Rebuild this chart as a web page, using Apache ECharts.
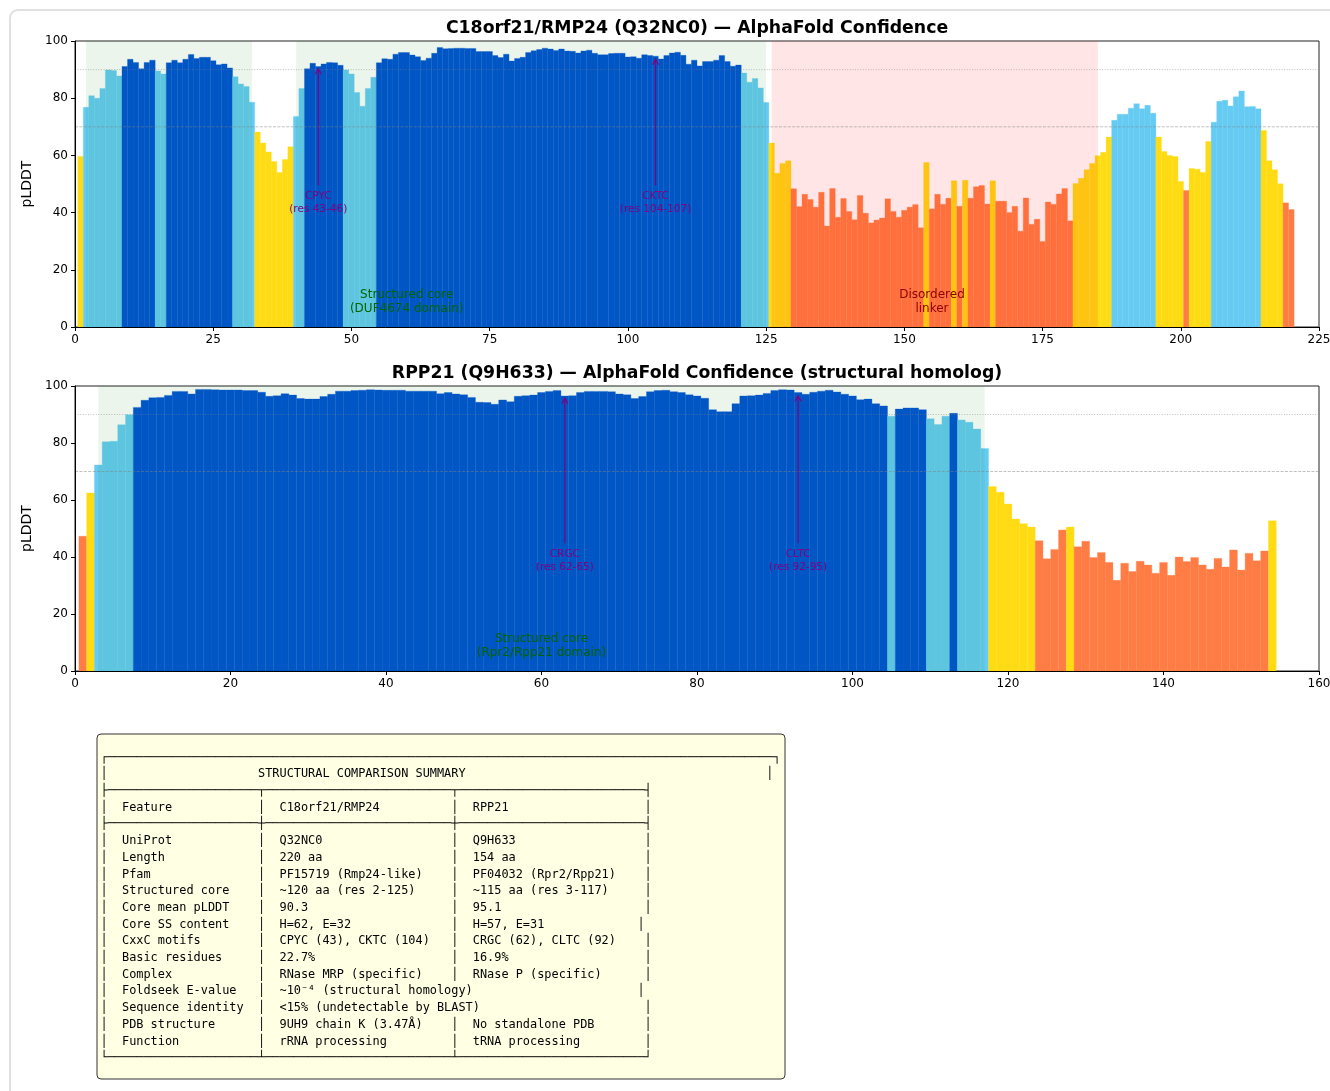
<!DOCTYPE html>
<html>
<head>
<meta charset="utf-8">
<script src="https://cdn.jsdelivr.net/npm/echarts@6/dist/echarts.min.js"></script>
<style>
html,body{margin:0;padding:0;background:#fff;}
#chart{width:1330px;height:1091px;}
</style>
</head>
<body>
<div id="chart"></div>
<script>
// ---------------- DATA ----------------
const rmp24Title = 'C18orf21/RMP24 (Q32NC0) \u2014 AlphaFold Confidence';
const rpp21Title = 'RPP21 (Q9H633) \u2014 AlphaFold Confidence (structural homolog)';

// per-residue pLDDT, residue n = index + 1
const rmp24Plddt = [
  59.6, 76.8, 80.9, 80.0, 83.4, 89.9, 89.7, 87.8, 91.1, 93.6,
  92.5, 90.3, 92.5, 93.3, 89.5, 88.5, 92.4, 93.3, 92.4, 93.6,
  95.3, 93.9, 94.3, 94.3, 93.1, 91.7, 92.0, 90.6, 87.5, 85.0,
  84.1, 78.6, 68.2, 64.3, 61.2, 57.9, 54.0, 58.6, 63.0, 73.6,
  83.4, 90.3, 92.2, 91.1, 92.0, 92.5, 92.4, 91.5, 89.9, 88.5,
  82.0, 77.2, 83.4, 87.3, 92.4, 93.8, 93.6, 95.4, 96.0, 96.0,
  95.1, 94.5, 93.2, 94.0, 95.7, 97.7, 97.3, 97.4, 97.5, 97.5,
  97.4, 97.4, 96.3, 96.3, 96.3, 94.9, 94.2, 95.4, 93.0, 93.9,
  94.3, 96.0, 96.6, 97.0, 97.5, 97.2, 96.7, 97.2, 96.5, 96.4,
  95.8, 96.5, 96.8, 95.7, 95.2, 95.2, 95.6, 95.7, 95.7, 94.4,
  94.5, 94.0, 95.2, 94.9, 94.7, 93.7, 94.9, 95.8, 96.1, 95.0,
  91.9, 93.3, 91.3, 92.8, 92.8, 93.3, 94.9, 92.8, 91.2, 91.6,
  88.8, 85.6, 86.9, 83.6, 78.5, 64.3, 53.8, 57.2, 58.1, 48.3,
  42.1, 46.4, 44.6, 41.9, 47.1, 35.3, 48.4, 38.4, 44.9, 40.4,
  37.5, 46.0, 39.8, 36.4, 37.4, 38.1, 44.8, 40.4, 38.4, 40.8,
  41.9, 42.8, 34.7, 57.5, 41.3, 46.4, 42.9, 45.0, 51.1, 42.2,
  51.3, 45.0, 49.0, 49.5, 43.0, 51.1, 44.0, 44.0, 40.0, 42.2,
  33.5, 45.1, 35.9, 37.7, 29.9, 43.7, 42.9, 46.5, 48.4, 37.1,
  50.2, 52.0, 55.0, 57.2, 59.9, 61.1, 66.4, 72.3, 74.4, 74.4,
  76.5, 78.1, 76.3, 77.5, 74.7, 66.4, 61.4, 60.0, 59.6, 50.9,
  47.7, 55.4, 55.2, 54.0, 64.9, 71.6, 78.9, 79.3, 77.3, 80.5,
  82.5, 77.0, 77.1, 76.3, 68.7, 58.1, 55.0, 50.1, 43.4, 41.1
];

const rpp21Plddt = [
  47.3, 62.5, 72.3, 80.4, 80.6, 86.4, 89.9, 92.5, 95.0, 95.9,
  96.0, 96.7, 98.1, 98.1, 97.2, 98.8, 98.8, 98.7, 98.6, 98.6,
  98.6, 98.4, 98.4, 97.8, 96.4, 96.6, 97.3, 96.8, 95.6, 95.4,
  95.4, 96.3, 97.1, 98.2, 98.2, 98.4, 98.5, 98.7, 98.6, 98.5,
  98.5, 98.5, 98.2, 98.2, 98.2, 98.2, 97.3, 97.7, 97.2, 96.9,
  96.0, 94.3, 94.2, 93.6, 95.1, 94.5, 96.4, 96.6, 96.8, 97.7,
  98.1, 98.4, 96.5, 96.6, 97.7, 98.1, 98.1, 98.1, 98.0, 97.2,
  96.9, 95.6, 96.3, 98.0, 98.4, 98.5, 98.0, 97.7, 96.9, 96.5,
  95.7, 91.7, 91.0, 91.0, 93.8, 96.5, 96.6, 96.8, 97.4, 98.4,
  98.7, 98.6, 97.7, 97.1, 97.8, 98.2, 98.5, 97.9, 97.1, 96.5,
  95.2, 95.4, 93.8, 93.0, 89.4, 91.9, 92.3, 92.3, 91.7, 88.5,
  86.5, 89.4, 90.4, 88.1, 87.3, 84.9, 78.1, 64.7, 62.7, 58.6,
  53.3, 51.7, 50.5, 45.7, 39.4, 42.6, 49.5, 50.5, 43.6, 45.5,
  39.8, 41.6, 38.1, 31.8, 37.8, 34.9, 38.5, 37.2, 34.3, 38.1,
  33.6, 40.0, 38.4, 39.8, 37.2, 35.7, 39.5, 36.5, 42.5, 35.4,
  41.3, 38.7, 42.1, 52.7
];

// shaded regions [start, end]
const rmp24CoreSpans = [[2, 32], [40, 125]];
const rmp24DisorderSpans = [[126, 185]];
const rpp21CoreSpans = [[3, 117]];

// confidence reference lines
const dottedLines = [90];
const dashedLines = [70];

// motif annotations: [residue, arrowTip, arrowTail, name, range]
const rmp24Motifs = [[44, 90.3, 49.5, 'CPYC', '(res 43-46)'], [105, 93.6, 49.5, 'CKTC', '(res 104-107)']];
const rpp21Motifs = [[63, 95.7, 44.8, 'CRGC', '(res 62-65)'], [93, 96.6, 44.8, 'CLTC', '(res 92-95)']];

// region labels: [x, y, text, kind]
const rmp24RegionLabels = [[60, 8.75, 'Structured core\n(DUF4674 domain)', 'core'], [155, 8.75, 'Disordered\nlinker', 'disorder']];
const rpp21RegionLabels = [[60, 8.75, 'Structured core\n(Rpr2/Rpp21 domain)', 'core']];

// axes
const rmp24XMax = 225, rmp24XStep = 25;
const rpp21XMax = 160, rpp21XStep = 20;
const yMax = 100, yStep = 20;

// summary table
const tableTitle = 'STRUCTURAL COMPARISON SUMMARY';
const tableHeader = ['Feature', 'C18orf21/RMP24', 'RPP21'];
const tableFeatures = ['UniProt', 'Length', 'Pfam', 'Structured core', 'Core mean pLDDT', 'Core SS content',
  'CxxC motifs', 'Basic residues', 'Complex', 'Foldseek E-value', 'Sequence identity', 'PDB structure', 'Function'];
const tableRmp24 = ['Q32NC0', '220 aa', 'PF15719 (Rmp24-like)', '~120 aa (res 2-125)', '90.3', 'H=62, E=32',
  'CPYC (43), CKTC (104)', '22.7%', 'RNase MRP (specific)', '~10\u207b\u2074 (structural homology)',
  '<15% (undetectable by BLAST)', '9UH9 chain K (3.47\u00c5)', 'rRNA processing'];
const tableRpp21 = ['Q9H633', '154 aa', 'PF04032 (Rpr2/Rpp21)', '~115 aa (res 3-117)', '95.1', 'H=57, E=31',
  'CRGC (62), CLTC (92)', '16.9%', 'RNase P (specific)', null, null, 'No standalone PDB', 'tRNA processing'];
const tableRowEndCol = [76, 76, 76, 76, 76, 75, 76, 76, 76, 75, 76, 76, 76];

// ---------------- STYLE ----------------
const FONT = 'DejaVu Sans';
const C_VHIGH = '#0053D6', C_HIGH = '#65CBF3', C_LOW = '#FFDB13', C_VLOW = '#FF7D45';
function plddtColor(v) { return v > 90 ? C_VHIGH : v > 70 ? C_HIGH : v > 50 ? C_LOW : C_VLOW; }
const CORE_FILL = 'rgba(0,128,0,0.08)';
const DISORDER_FILL = 'rgba(255,0,0,0.10)';
const LABEL_COLORS = { core: '#006400', disorder: '#8B0000' };
const MOTIF_COLOR = '#800080';

function barItem(params, api) {
  const x = api.value(0), y = api.value(1);
  const a = api.coord([x - 0.5, y]);
  const b = api.coord([x + 0.5, 0]);
  const col = plddtColor(y);
  return { type: 'rect', shape: { x: a[0], y: a[1], width: b[0] - a[0], height: b[1] - a[1] },
    style: { fill: col, stroke: col, lineWidth: 0.3 } };
}
function spanItem(fill) {
  return function (params, api) {
    const a = api.coord([api.value(0), yMax]);
    const b = api.coord([api.value(1), 0]);
    return { type: 'rect', shape: { x: a[0], y: a[1], width: b[0] - a[0], height: b[1] - a[1] },
      style: { fill: fill } };
  };
}
function hlineItem(xmax, dash) {
  return function (params, api) {
    const v = api.value(1);
    const a = api.coord([0, v]), b = api.coord([xmax, v]);
    return { type: 'line', shape: { x1: a[0], y1: a[1], x2: b[0], y2: b[1] },
      style: { stroke: 'rgba(128,128,128,0.55)', lineWidth: 0.9, lineDash: dash } };
  };
}
function motifItem(list) {
  return function (params, api) {
    const m = list[params.dataIndex];
    const tip = api.coord([m[0], m[1]]);
    const tail = api.coord([m[0], m[2]]);
    return { type: 'group', children: [
      { type: 'line', shape: { x1: tail[0], y1: tail[1], x2: tip[0], y2: tip[1] },
        style: { stroke: MOTIF_COLOR, lineWidth: 1.2 } },
      { type: 'polyline', shape: { points: [[tip[0] - 3, tip[1] + 5.5], [tip[0], tip[1]], [tip[0] + 3, tip[1] + 5.5]] },
        style: { stroke: MOTIF_COLOR, fill: null, lineWidth: 1.2 } },
      { type: 'text', x: tail[0], y: tail[1] + 4.5,
        style: { text: m[3] + '\n' + m[4], fill: MOTIF_COLOR, fontFamily: FONT, fontSize: 10.5,
          lineHeight: 13, align: 'center', verticalAlign: 'top' } }
    ] };
  };
}
function labelItem(list) {
  return function (params, api) {
    const l = list[params.dataIndex];
    const p = api.coord([l[0], l[1]]);
    return { type: 'text', x: p[0], y: p[1],
      style: { text: l[2], fill: LABEL_COLORS[l[3]], fontFamily: FONT, fontSize: 12,
        lineHeight: 14, align: 'center', verticalAlign: 'middle' } };
  };
}

function xAxisCfg(gi, max, step) {
  return { type: 'value', gridIndex: gi, min: 0, max: max, interval: step, z: 10,
    axisLine: { show: true, onZero: false, lineStyle: { color: '#000', width: 1 } },
    axisTick: { show: true, inside: false, length: 4, lineStyle: { color: '#000' } },
    axisLabel: { color: '#000', fontFamily: FONT, fontSize: 12, margin: 7 },
    splitLine: { show: false } };
}
function yAxisCfg(gi) {
  return { type: 'value', gridIndex: gi, min: 0, max: yMax, interval: yStep, z: 10,
    name: 'pLDDT', nameLocation: 'middle', nameGap: 40, nameRotate: 90,
    nameTextStyle: { color: '#000', fontFamily: FONT, fontSize: 14 },
    axisLine: { show: true, lineStyle: { color: '#000', width: 1 } },
    axisTick: { show: true, inside: false, length: 4, lineStyle: { color: '#000' } },
    axisLabel: { color: '#000', fontFamily: FONT, fontSize: 12, margin: 7 },
    splitLine: { show: false } };
}

function panelSeries(gi, plddt, coreSpans, disorderSpans, motifs, labels, xmax) {
  const s = [];
  s.push({ type: 'custom', xAxisIndex: gi, yAxisIndex: gi, z: 2, clip: true, silent: true,
    renderItem: barItem, encode: { x: 0, y: 1 },
    data: plddt.map((v, i) => [i + 1, v]) });
  s.push({ type: 'custom', xAxisIndex: gi, yAxisIndex: gi, z: 3, silent: true,
    renderItem: spanItem(CORE_FILL), encode: { x: [0, 1], y: 2 },
    data: coreSpans.map(d => [d[0], d[1], 0]) });
  if (disorderSpans.length) {
    s.push({ type: 'custom', xAxisIndex: gi, yAxisIndex: gi, z: 3, silent: true,
      renderItem: spanItem(DISORDER_FILL), encode: { x: [0, 1], y: 2 },
      data: disorderSpans.map(d => [d[0], d[1], 0]) });
  }
  s.push({ type: 'custom', xAxisIndex: gi, yAxisIndex: gi, z: 4, silent: true,
    renderItem: hlineItem(xmax, [1, 1.6]), encode: { x: 0, y: 1 },
    data: dottedLines.map(v => [0, v]) });
  s.push({ type: 'custom', xAxisIndex: gi, yAxisIndex: gi, z: 4, silent: true,
    renderItem: hlineItem(xmax, [3, 1.4]), encode: { x: 0, y: 1 },
    data: dashedLines.map(v => [0, v]) });
  s.push({ type: 'custom', xAxisIndex: gi, yAxisIndex: gi, z: 5, silent: true,
    renderItem: motifItem(motifs), encode: { x: 0, y: 1 },
    data: motifs.map(m => [m[0], m[1]]) });
  s.push({ type: 'custom', xAxisIndex: gi, yAxisIndex: gi, z: 5, silent: true,
    renderItem: labelItem(labels), encode: { x: 0, y: 1 },
    data: labels.map(l => [l[0], l[1]]) });
  return s;
}

// ---- table text ----
function pad(s, n) { s = s || ''; while (s.length < n) s += ' '; return s; }
function rep(ch, n) { let s = ''; for (let i = 0; i < n; i++) s += ch; return s; }
const V = '\u2502', H = '\u2500';
const tableLines = [];
tableLines.push('\u250c' + rep(H, 93) + '\u2510');
tableLines.push(V + pad(rep(' ', 21) + tableTitle, 92) + V);
tableLines.push('\u251c' + rep(H, 21) + '\u252c' + rep(H, 26) + '\u252c' + rep(H, 26) + '\u2524');
tableLines.push(V + '  ' + pad(tableHeader[0], 19) + V + '  ' + pad(tableHeader[1], 24) + V + '  ' + pad(tableHeader[2], 24) + V);
tableLines.push('\u251c' + rep(H, 21) + '\u253c' + rep(H, 26) + '\u253c' + rep(H, 26) + '\u2524');
tableFeatures.forEach((f, i) => {
  const endCol = tableRowEndCol[i];
  let line = V + '  ' + pad(f, 19) + V;
  if (tableRpp21[i] === null) {
    line += '  ' + pad(tableRmp24[i], endCol - 25);
  } else {
    line += '  ' + pad(tableRmp24[i], 24) + V + '  ' + pad(tableRpp21[i], endCol - 52);
  }
  tableLines.push(line + V);
});
tableLines.push('\u2514' + rep(H, 21) + '\u2534' + rep(H, 26) + '\u2534' + rep(H, 26) + '\u2518');

// ---------------- CHART ----------------
const chart = echarts.init(document.getElementById('chart'), null, { renderer: 'canvas', width: 1330, height: 1091 });
const gridBase = { show: true, borderColor: '#222', borderWidth: 1, backgroundColor: 'transparent',
  containLabel: false, outerBoundsMode: 'none' };
const option = {
  backgroundColor: '#fff',
  animation: false,
  title: [
    { text: rmp24Title, left: 697, top: 20, textAlign: 'center', padding: 0,
      textStyle: { fontFamily: FONT, fontSize: 17.3, fontWeight: 'bold', color: '#000' } },
    { text: rpp21Title, left: 697, top: 365, textAlign: 'center', padding: 0,
      textStyle: { fontFamily: FONT, fontSize: 17.3, fontWeight: 'bold', color: '#000' } }
  ],
  grid: [
    Object.assign({ left: 75, top: 41, width: 1244, height: 286 }, gridBase),
    Object.assign({ left: 75, top: 386, width: 1244, height: 285 }, gridBase)
  ],
  xAxis: [xAxisCfg(0, rmp24XMax, rmp24XStep), xAxisCfg(1, rpp21XMax, rpp21XStep)],
  yAxis: [yAxisCfg(0), yAxisCfg(1)],
  series: [].concat(
    panelSeries(0, rmp24Plddt, rmp24CoreSpans, rmp24DisorderSpans, rmp24Motifs, rmp24RegionLabels, rmp24XMax),
    panelSeries(1, rpp21Plddt, rpp21CoreSpans, [], rpp21Motifs, rpp21RegionLabels, rpp21XMax)
  ),
  graphic: [
    { type: 'rect', z: 0, silent: true, shape: { x: 10, y: 10, width: 1345, height: 1110, r: 8 },
      style: { fill: null, stroke: '#e0e0e0', lineWidth: 2 } },
    { type: 'rect', z: 1, silent: true, shape: { x: 97, y: 734, width: 688, height: 345, r: 4 },
      style: { fill: '#FFFFE4', stroke: '#333', lineWidth: 1 } },
    { type: 'text', z: 2, silent: true, x: 100.5, y: 749.2,
      style: { text: tableLines.join('\n'), fill: '#000', fontFamily: 'DejaVu Sans Mono', fontSize: 11.9,
        lineHeight: 16.7, align: 'left', verticalAlign: 'top' } }
  ]
};
chart.setOption(option);
</script>
</body>
</html>
